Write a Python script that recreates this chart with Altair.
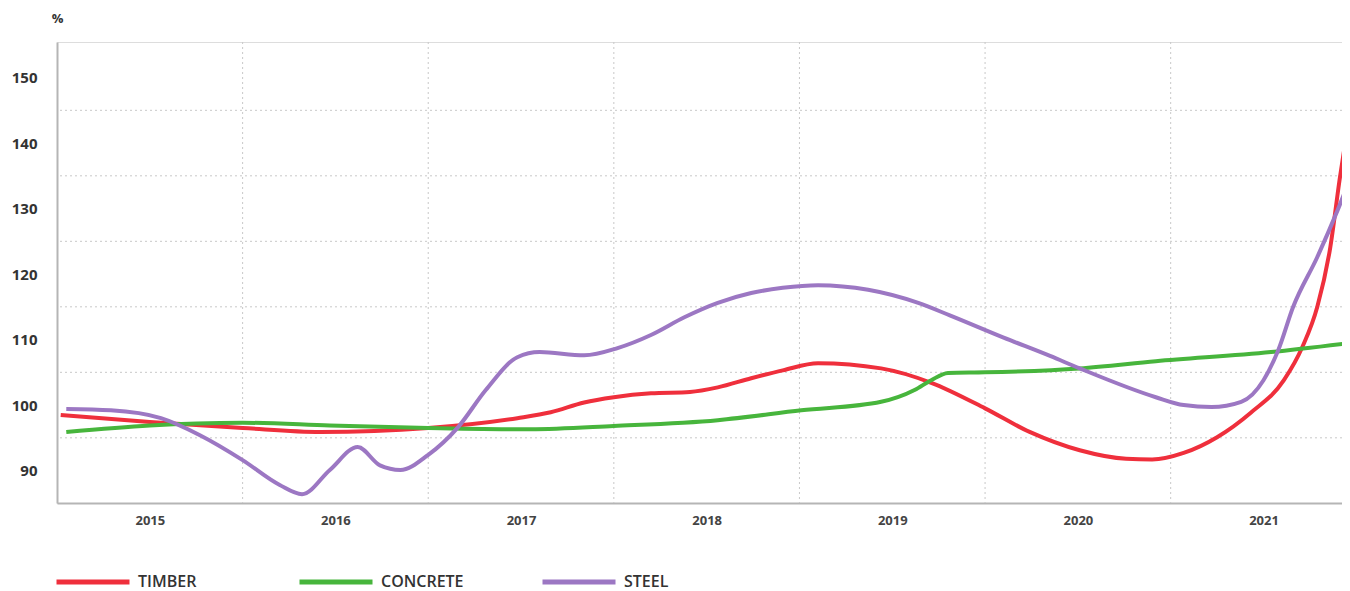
import altair as alt
import pandas as pd

# ---- data ----
timber_years = [2015.02, 2015.50, 2016.00, 2016.42, 2017.00, 2017.48, 2017.66, 2017.84, 2018.00,
                2018.20, 2018.41, 2018.56, 2018.74, 2018.91, 2019.10, 2019.44, 2019.71, 2020.00,
                2020.24, 2020.51, 2020.76, 2020.90, 2021.07, 2021.25, 2021.43, 2021.61, 2021.71,
                2021.79, 2021.86, 2021.91, 2021.97]
timber_values = [98.5, 97.4, 96.5, 95.9, 96.5, 98.0, 98.9, 100.4, 101.2,
                 101.8, 102.0, 102.7, 104.1, 105.3, 106.4, 105.6, 103.4, 99.5,
                 95.9, 93.1, 91.8, 91.7, 92.7, 95.1, 98.8, 103.8, 108.9,
                 115.0, 124.1, 134.4, 145.5]

concrete_years = [2015.05, 2015.50, 2016.00, 2016.47, 2017.00, 2017.55, 2018.00, 2018.56, 2019.01,
                  2019.44, 2019.62, 2019.71, 2019.80, 2020.00, 2020.51, 2020.92, 2021.54, 2021.97]
concrete_values = [95.9, 96.9, 97.3, 96.9, 96.5, 96.3, 96.8, 97.7, 99.2,
                   100.5, 102.3, 103.8, 104.9, 105.0, 105.6, 106.7, 108.1, 109.5]

steel_years = [2015.05, 2015.29, 2015.56, 2015.77, 2016.00, 2016.20, 2016.32, 2016.47, 2016.62,
               2016.74, 2016.85, 2017.00, 2017.16, 2017.31, 2017.48, 2017.60, 2017.84, 2018.02,
               2018.20, 2018.38, 2018.56, 2018.74, 2018.91, 2019.10, 2019.37, 2019.64, 2019.81,
               2020.10, 2020.35, 2020.51, 2020.92, 2021.07, 2021.22, 2021.38, 2021.50,
               2021.58, 2021.66, 2021.79, 2021.90, 2021.97]
steel_values = [99.4, 99.2, 98.0, 95.4, 91.6, 87.8, 86.4, 90.1, 93.6,
                90.8, 90.1, 92.4, 96.6, 102.3, 107.3, 108.1, 107.6, 108.7,
                110.7, 113.4, 115.6, 117.1, 117.9, 118.3, 117.6, 115.6, 113.7,
                110.3, 107.5, 105.6, 101.2, 100.0, 99.7, 100.5, 103.8,
                108.4, 115.0, 122.6, 129.8, 134.8]

series_names = ["TIMBER", "CONCRETE", "STEEL"]
series_colors = ["#ef2f3c", "#47b53c", "#9c77c3"]

year_labels = [2015, 2016, 2017, 2018, 2019, 2020, 2021]
year_bounds = [2016, 2017, 2018, 2019, 2020, 2021]
y_labels = [90, 100, 110, 120, 130, 140, 150]
y_grid = [95, 105, 115, 125, 135, 145]

# ---- tables ----
rows = []
for name, ys, vs in [("TIMBER", timber_years, timber_values),
                     ("CONCRETE", concrete_years, concrete_values),
                     ("STEEL", steel_years, steel_values)]:
    for i, (yr, v) in enumerate(zip(ys, vs)):
        rows.append({"series": name, "year": yr, "value": v, "order": i})
df = pd.DataFrame(rows)

FONT = "Open Sans"
x_dom = [2015.0, 2021.923]
y_dom = [85.05, 155.43]

x_scale = alt.Scale(domain=x_dom, nice=False, zero=False)
y_scale = alt.Scale(domain=y_dom, nice=False, zero=False)

vgrid = alt.Chart(pd.DataFrame({"b": year_bounds})).mark_rule(
    color="#c8c8c8", strokeWidth=1, strokeDash=[2, 3]
).encode(x=alt.X("b:Q", scale=x_scale))

hgrid = alt.Chart(pd.DataFrame({"g": y_grid})).mark_rule(
    color="#c8c8c8", strokeWidth=1, strokeDash=[2, 3]
).encode(y=alt.Y("g:Q", scale=y_scale))

lines = alt.Chart(df).mark_line(strokeWidth=4, interpolate="monotone", clip=True).encode(
    x=alt.X("year:Q", scale=x_scale,
            axis=alt.Axis(values=[y + 0.5 for y in year_labels],
                          labelExpr="floor(datum.value)", title=None, grid=False,
                          ticks=False, domainColor="#b5b5b5", domainWidth=2,
                          labelFont=FONT, labelFontSize=13, labelFontWeight="bold",
                          labelColor="#444444", labelPadding=11)),
    y=alt.Y("value:Q", scale=y_scale,
            axis=alt.Axis(values=y_labels, grid=False, ticks=False,
                          domainColor="#b5b5b5", domainWidth=2,
                          labelFont=FONT, labelFontSize=15, labelFontWeight="bold",
                          labelColor="#333333", labelPadding=20,
                          title="%", titleAngle=0, titleX=0, titleY=-24,
                          titleAlign="center", titleBaseline="middle",
                          titleFont=FONT, titleFontSize=13, titleFontWeight="bold",
                          titleColor="#333333")),
    color=alt.Color("series:N",
                    scale=alt.Scale(domain=series_names, range=series_colors),
                    sort=series_names,
                    legend=alt.Legend(title=None, orient="none", legendX=-3, legendY=501,
                                      direction="horizontal", columns=3, gridAlign="all",
                                      columnPadding=68, symbolType="stroke",
                                      symbolSize=5329, symbolStrokeWidth=5,
                                      labelFont=FONT, labelFontSize=16,
                                      labelFontWeight=600, labelColor="#333333",
                                      labelOffset=6)),
    order="order:Q",
)

chart = alt.layer(vgrid, hgrid, lines).properties(
    width=1285, height=461,
    autosize=alt.AutoSizeParams(type="none"),
    padding={"left": 49, "top": 34, "right": 0, "bottom": 90},
).configure_view(stroke=None).configure(background="white").configure_legend(
    symbolStrokeWidth=5
)

chart.save("out.html", embed_options={"renderer": "svg", "actions": False})
